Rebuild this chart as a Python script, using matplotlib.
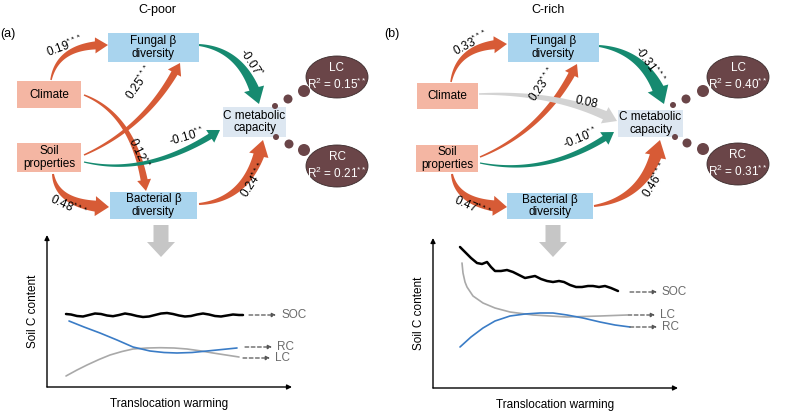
import numpy as np
import matplotlib
matplotlib.use("Agg")
import matplotlib.pyplot as plt
from matplotlib.patches import Rectangle, Ellipse, Circle, Polygon

plt.rcParams['font.family'] = ['Liberation Sans', 'DejaVu Sans']
plt.rcParams['mathtext.fontset'] = 'custom'
plt.rcParams['mathtext.rm'] = 'Liberation Sans'
plt.rcParams['mathtext.it'] = 'Liberation Sans:italic'
plt.rcParams['mathtext.bf'] = 'Liberation Sans:bold'

# ---- data ----
panel_titles = ["C-poor", "C-rich"]
panel_tags = ["(a)", "(b)"]
node_text = {"clim": "Climate", "soil": "Soil\nproperties", "fung": "Fungal β\ndiversity",
             "bact": "Bacterial β\ndiversity", "cmc": "C metabolic\ncapacity"}

edges_a = [("clim", "fung"), ("soil", "fung"), ("clim", "bact"), ("soil", "cmc"),
           ("soil", "bact"), ("fung", "cmc"), ("bact", "cmc")]
coef_a = [0.19, 0.25, 0.12, -0.10, 0.48, -0.07, 0.24]
sig_a = ["***", "***", "**", "**", "***", "*", "***"]

edges_b = [("clim", "fung"), ("soil", "fung"), ("clim", "cmc"), ("soil", "cmc"),
           ("soil", "bact"), ("fung", "cmc"), ("bact", "cmc")]
coef_b = [0.33, 0.23, 0.08, -0.10, 0.47, -0.31, 0.46]
sig_b = ["***", "***", "", "**", "***", "***", "***"]

r2_names = ["LC", "RC"]
r2_a = [0.15, 0.21]
r2_b = [0.40, 0.31]
r2_sig = "**"

# conceptual curves (x, y in axis units)
soc_a_x = [19, 24, 30, 36, 42, 48, 54, 60, 66, 72, 78, 84, 90, 96, 102, 108, 114, 120, 126, 132,
           138, 144, 150, 156, 162, 168, 174, 180, 186, 192, 196]
soc_a_y = [73, 72.5, 71, 70.5, 72, 73.5, 73, 71.5, 70.8, 72, 73.5, 72.5, 71, 70, 70.5, 72, 73.5, 74, 73, 71.5,
           70.5, 71, 72.5, 73.5, 72.5, 71, 70.5, 71.5, 72.5, 72, 72]
rc_a_x = [22, 37, 53, 70, 86, 103, 117, 130, 145, 160, 175, 190]
rc_a_y = [66, 60, 54, 47, 40, 36, 34.5, 34, 34.5, 36, 37.5, 39]
lc_a_x = [19, 30, 40, 52, 63, 75, 86, 100, 113, 127, 140, 153, 166, 179, 192]
lc_a_y = [11, 17, 22, 27.5, 32, 35.5, 38, 39, 39.3, 39, 38, 36.2, 34, 32, 30]

soc_b_x = [27, 32, 38, 44, 49, 54, 58, 62, 68, 74, 80, 86, 92, 97, 102, 108, 114, 120, 126, 131,
           137, 143, 149, 155, 160, 166, 172, 178, 185]
soc_b_y = [141, 136, 130, 125, 124, 126, 121, 117, 117, 118, 116, 113, 110, 111, 112, 109, 107, 106, 107, 106,
           103, 101, 101, 102, 102, 101, 102, 100, 97]
lc_b_x = [29, 30, 32, 34, 40, 50, 62, 77, 100, 134, 167, 194]
lc_b_y = [125, 115, 106, 101, 92, 85, 80, 76, 73, 71, 72, 73]
rc_b_x = [27, 38, 50, 62, 77, 92, 107, 120, 134, 150, 167, 182, 197]
rc_b_y = [41, 51, 60, 67, 72, 74, 75, 75, 73, 70, 66, 63, 61]

# ---- layout (pixel coordinates, y downward) ----
boxes = [
    {"clim": (17, 81, 64, 27), "soil": (17, 143, 64, 29), "fung": (108, 33, 91, 29),
     "bact": (110, 192, 87, 27), "cmc": (223, 107, 63, 30)},
    {"clim": (417, 83, 61, 26), "soil": (416, 145, 62, 27), "fung": (508, 33, 91, 29),
     "bact": (507, 193, 86, 26), "cmc": (618, 110, 65, 27)},
]
box_colors = {"clim": "#f4b6a3", "soil": "#f4b6a3", "fung": "#a9d4ee", "bact": "#a9d4ee", "cmc": "#dde7f1"}

# start, control, tip of each quadratic arrow
arrow_geom = [
    [((51, 80), (58, 44), (108, 45)), ((84, 155), (147, 127), (180, 63)), ((84, 95), (135, 115), (146, 191)),
     ((84, 162), (150, 177), (220, 130)), ((53, 174), (57, 206), (109, 207)), ((199, 45), (245, 50), (259, 104)),
     ((199, 204), (250, 200), (263, 140))],
    [((451, 82), (458, 44), (507, 44)), ((480, 157), (545, 130), (577, 64)), ((479, 94), (560, 92), (617, 121)),
     ((480, 163), (550, 177), (614, 132)), ((452, 174), (457, 205), (507, 207)), ((599, 46), (648, 52), (664, 104)),
     ((594, 206), (648, 198), (660, 140))],
]
# (head width, head length, tail width at head, tail width at start) in px
arrow_size = [
    [(16, 13, 8, 1.5), (15, 12, 7, 1.5), (14, 12, 7, 1.5), (15, 12, 6, 1.2), (20, 14, 11, 2), (21, 16, 10, 2),
     (20, 16, 11, 2)],
    [(17, 13, 9, 1.5), (15, 12, 7, 1.5), (18, 14, 9, 1.5), (15, 12, 6, 1.2), (20, 14, 11, 2), (22, 17, 12, 2),
     (22, 17, 12, 2)],
]
label_pos = [
    [(65, 46, 20), (140, 82, 55), (139, 153, -65), (187, 137, 16), (68, 206, -25), (251, 63, -57), (254, 180, 57)],
    [(471, 43, 28), (543, 84, 55), (586, 102, -12), (580, 138, 22), (472, 207, -24), (650, 65, -55), (656, 180, 58)],
]
ellipse_pos = [[(337, 77), (337, 166)], [(738, 77), (738, 164)]]
dot_pos = [
    [(275, 106, 3), (288, 99, 4.5), (304, 91, 6), (276, 137, 3), (289, 144, 4.5), (304, 150, 6)],
    [(673, 105, 3), (686, 99, 4.5), (703, 91, 6), (675, 137, 3), (687, 143, 4.5), (703, 149, 6)],
]
title_x = [157, 548]
tag_x = [8, 392]
down_x = [161, 553]

ORANGE = "#d75b36"
TEAL = "#168a70"
GRAY = "#d3d3d3"
DARK = "#6a4548"


def curved_arrow(p0, pc, p1, hw, hl, tw1, tw0):
    # tapered quadratic-bezier arrow outline
    p0, pc, p1 = (np.asarray(v, float) for v in (p0, pc, p1))
    t = np.linspace(0, 1, 200)[:, None]
    pts = (1 - t) ** 2 * p0 + 2 * (1 - t) * t * pc + t ** 2 * p1
    d = np.linalg.norm(pts - p1, axis=1)
    k = np.argmax(d < hl)
    body = pts[:k + 1]
    tang = np.gradient(body, axis=0)
    tang /= np.linalg.norm(tang, axis=1)[:, None]
    nrm = np.column_stack([-tang[:, 1], tang[:, 0]])
    w = np.linspace(tw0, tw1, len(body))[:, None] / 2
    left = body + nrm * w
    right = body - nrm * w
    base = body[-1]
    hdir = (p1 - base) / np.linalg.norm(p1 - base)
    hn = np.array([-hdir[1], hdir[0]])
    head = [base + hn * hw / 2, p1, base - hn * hw / 2]
    return np.vstack([left, head, right[::-1]])


fig = plt.figure(figsize=(7.99, 4.12), dpi=100)
ax = fig.add_axes([0, 0, 1, 1])
ax.set_xlim(0, 799)
ax.set_ylim(412, 0)
ax.axis("off")

panels = [(edges_a, coef_a, sig_a, r2_a), (edges_b, coef_b, sig_b, r2_b)]
for p, (edges, coefs, sigs, r2) in enumerate(panels):
    ax.text(title_x[p], 10, panel_titles[p], ha="center", va="center", fontsize=9)
    ax.text(tag_x[p], 34, panel_tags[p], ha="center", va="center", fontsize=9)

    # arrows first so boxes sit on top
    for i, (src, dst) in enumerate(edges):
        if sigs[i] == "":
            col = GRAY
        elif coefs[i] > 0:
            col = ORANGE
        else:
            col = TEAL
        outline = curved_arrow(*arrow_geom[p][i], *arrow_size[p][i])
        ax.add_patch(Polygon(outline, closed=True, fc=col, ec="none"))
        lx, ly, rot = label_pos[p][i]
        txt = f"{coefs[i]:.2f}" + (f"$^{{{sigs[i]}}}$" if sigs[i] else "")
        ax.text(lx, ly, txt, ha="center", va="center", rotation=rot, rotation_mode="anchor", fontsize=8.5)

    for key, (x0, y0, w, h) in boxes[p].items():
        ax.add_patch(Rectangle((x0, y0), w, h, fc=box_colors[key], ec="none"))
        ax.text(x0 + w / 2, y0 + h / 2, node_text[key], ha="center", va="center", fontsize=8.5,
                linespacing=1.1)

    for (cx, cy, r) in dot_pos[p]:
        ax.add_patch(Circle((cx, cy), r, fc=DARK, ec="none"))
    for j, (cx, cy) in enumerate(ellipse_pos[p]):
        ax.add_patch(Ellipse((cx, cy), 62, 42, fc=DARK, ec="#3a2a2b", lw=0.6))
        ax.text(cx, cy, f"{r2_names[j]}\nR$^2$ = {r2[j]:.2f}$^{{{r2_sig}}}$", ha="center", va="center",
                color="white", fontsize=8.5, linespacing=1.2)

    ax.arrow(down_x[p], 225, 0, 32, width=15, head_width=28, head_length=15,
             length_includes_head=True, fc="#c6c6c6", ec="none")

# ---- bottom conceptual plots ----
insets = [
    {"origin": (47, 387), "w": 245, "h": 152,
     "curves": [(soc_a_x, soc_a_y, "black", 1.8), (lc_a_x, lc_a_y, "#a9a9a9", 1.2), (rc_a_x, rc_a_y, "#3a7cc6", 1.2)],
     "tags": [("SOC", 72, 202), ("RC", 40, 198), ("LC", 29, 196)]},
    {"origin": (433, 388), "w": 245, "h": 150,
     "curves": [(soc_b_x, soc_b_y, "black", 1.8), (lc_b_x, lc_b_y, "#a9a9a9", 1.2), (rc_b_x, rc_b_y, "#3a7cc6", 1.2)],
     "tags": [("SOC", 96, 197), ("LC", 73, 195), ("RC", 61, 197)]},
]
for ins in insets:
    ox, oy = ins["origin"]
    w, h = ins["w"], ins["h"]
    iax = fig.add_axes([ox / 799, (412 - oy) / 412, w / 799, h / 412])
    iax.set_xlim(0, w)
    iax.set_ylim(0, h)
    iax.set_facecolor("none")
    for s in iax.spines.values():
        s.set_visible(False)
    iax.set_xticks([])
    iax.set_yticks([])
    for xs, ys, c, lw in ins["curves"]:
        iax.plot(xs, ys, color=c, lw=lw, solid_capstyle="round")
    for name, yv, xs in ins["tags"]:
        iax.annotate("", xy=(xs + 27, yv), xytext=(xs, yv),
                     arrowprops=dict(arrowstyle="-|>", ls=(0, (3, 2)), color="#555555", lw=0.9,
                                     mutation_scale=6, shrinkA=0, shrinkB=0), annotation_clip=False)
        iax.text(xs + 32, yv, name, ha="left", va="center", fontsize=8.5, color="#6b6b6b", clip_on=False)
    iax.annotate("", xy=(0, 1), xytext=(0, 0), xycoords="axes fraction",
                 arrowprops=dict(arrowstyle="-|>", color="black", lw=1, mutation_scale=7, shrinkA=0, shrinkB=0))
    iax.annotate("", xy=(1, 0), xytext=(0, 0), xycoords="axes fraction",
                 arrowprops=dict(arrowstyle="-|>", color="black", lw=1, mutation_scale=7, shrinkA=0, shrinkB=0))
    iax.set_ylabel("Soil C content", fontsize=8.5, labelpad=6)
    iax.set_xlabel("Translocation warming", fontsize=8.5, labelpad=8)

fig.savefig("out.png", dpi=100)
